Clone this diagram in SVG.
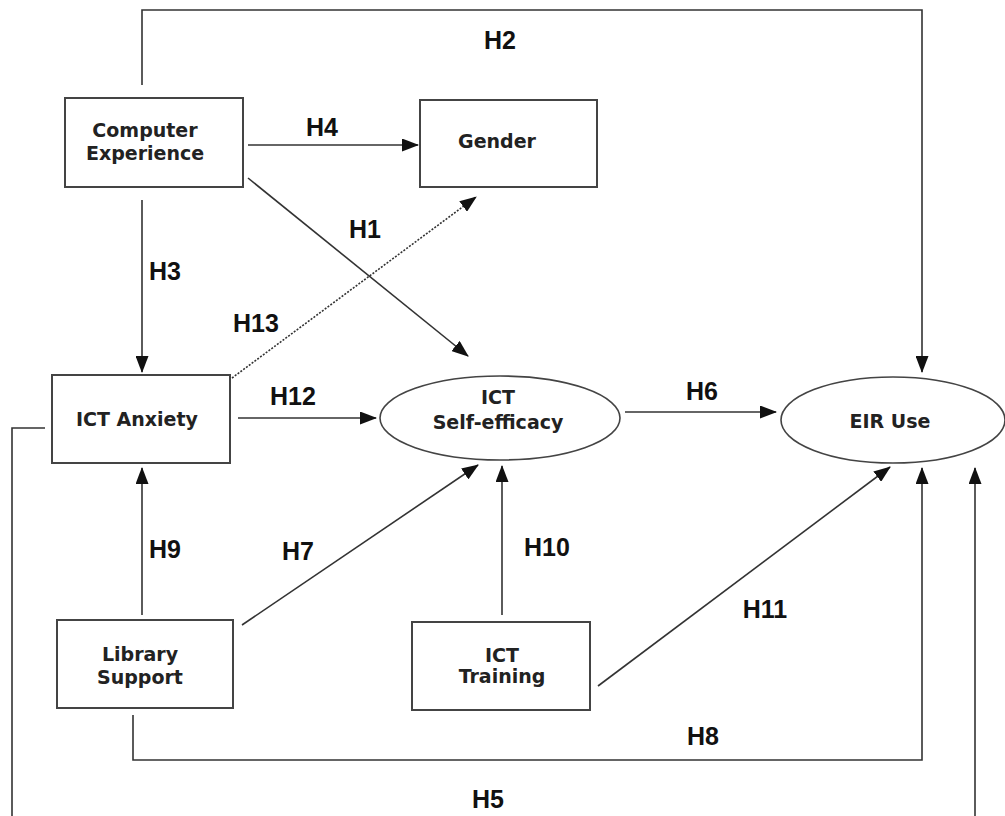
<svg xmlns="http://www.w3.org/2000/svg" width="1005" height="816" viewBox="0 0 1005 816">
<style>
.box{fill:#fff;stroke:#444;stroke-width:2}
.ell{fill:#fff;stroke:#444;stroke-width:1.6}
.nt{font-family:"DejaVu Sans",Verdana,sans-serif;font-weight:bold;font-size:19px;fill:#222;text-anchor:middle}
.lb{font-family:"Liberation Sans",Arial,sans-serif;font-weight:bold;font-size:25px;fill:#111;text-anchor:middle}
.ln{fill:none;stroke:#333;stroke-width:1.6}
.ar{marker-end:url(#ah)}
.dot{stroke-dasharray:2 1.5}
</style>
<defs>
<marker id="ah" viewBox="0 0 17 13" refX="16" refY="6.5" markerWidth="17" markerHeight="13" markerUnits="userSpaceOnUse" orient="auto">
<path d="M0,0 L17,6.5 L0,13 Z" fill="#111"/>
</marker>
</defs>
<rect width="1005" height="816" fill="#fff"/>
<g id="connectors">
<path class="ln ar" d="M142,85 V10 H922 V372"/>
<path class="ln ar" d="M248,145 H418"/>
<path class="ln ar" d="M248,178 L468,356"/>
<path class="ln ar" d="M142,200 V372"/>
<path class="ln ar dot" d="M232,378 L476,197"/>
<path class="ln ar" d="M238,418 H376"/>
<path class="ln ar" d="M625,412 H776"/>
<path class="ln" d="M45,428 H12 V820"/>
<path class="ln ar" d="M975,820 V468"/>
<path class="ln ar" d="M142,615 V468"/>
<path class="ln ar" d="M242,625 L478,465"/>
<path class="ln ar" d="M502,615 V466"/>
<path class="ln ar" d="M598,686 L890,467"/>
<path class="ln ar" d="M133,715 V760 H922 V468"/>
</g>
<g id="labels">
<text class="lb" x="500" y="49">H2</text>
<text class="lb" x="322" y="136">H4</text>
<text class="lb" x="365" y="238">H1</text>
<text class="lb" x="165" y="280">H3</text>
<text class="lb" x="256" y="332">H13</text>
<text class="lb" x="293" y="405">H12</text>
<text class="lb" x="702" y="400">H6</text>
<text class="lb" x="165" y="558">H9</text>
<text class="lb" x="298" y="560">H7</text>
<text class="lb" x="547" y="556">H10</text>
<text class="lb" x="765" y="618">H11</text>
<text class="lb" x="703" y="745">H8</text>
<text class="lb" x="488" y="808">H5</text>
</g>
<g id="computer-experience">
<rect class="box" x="65" y="98" width="178" height="89"/>
<text class="nt" x="145" y="137">Computer</text>
<text class="nt" x="145" y="160">Experience</text>
</g>
<g id="gender">
<rect class="box" x="420" y="100" width="177" height="87"/>
<text class="nt" x="497" y="148">Gender</text>
</g>
<g id="ict-anxiety">
<rect class="box" x="52" y="375" width="178" height="88"/>
<text class="nt" x="137" y="426">ICT Anxiety</text>
</g>
<g id="ict-self-efficacy">
<ellipse class="ell" cx="500" cy="418" rx="120" ry="42"/>
<text class="nt" x="498" y="404">ICT</text>
<text class="nt" x="498" y="429">Self-efficacy</text>
</g>
<g id="eir-use">
<ellipse class="ell" cx="893" cy="420" rx="112" ry="43"/>
<text class="nt" x="890" y="428">EIR Use</text>
</g>
<g id="library-support">
<rect class="box" x="57" y="620" width="176" height="88"/>
<text class="nt" x="140" y="661">Library</text>
<text class="nt" x="140" y="684">Support</text>
</g>
<g id="ict-training">
<rect class="box" x="412" y="622" width="178" height="88"/>
<text class="nt" x="502" y="662">ICT</text>
<text class="nt" x="502" y="683">Training</text>
</g>
</svg>
